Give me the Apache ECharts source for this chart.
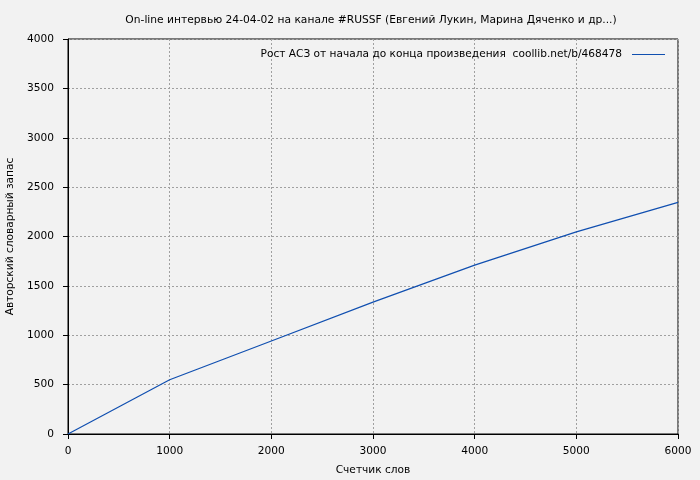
<!DOCTYPE html>
<html><head><meta charset="utf-8">
<script src="https://cdn.jsdelivr.net/npm/echarts@6/dist/echarts.min.js"></script>
<style>html,body{margin:0;padding:0;background:#f2f2f2}#c{width:700px;height:480px}</style>
</head><body><div id="c"></div>
<script>
const titleText = 'On-line интервью 24-04-02 на канале #RUSSF (Евгений Лукин, Марина Дяченко и др...)';
const seriesName = 'Рост АСЗ от начала до конца произведения  coollib.net/b/468478';
const xName = 'Счетчик слов';
const yName = 'Авторский словарный запас';
const xValues = [0, 1000, 2000, 3000, 4000, 5000, 6000];
const yValues = [0, 550, 942, 1335, 1710, 2047, 2346];

const font = 'DejaVu Sans';
const fs = 10.6;
const chart = echarts.init(document.getElementById('c'), null, {renderer: 'canvas'});
chart.setOption({
  backgroundColor: '#f2f2f2',
  animation: false,
  title: {text: titleText, left: 366, textAlign: 'center', top: 10,
    textStyle: {fontFamily: font, fontSize: 10.7, fontWeight: 'normal', color: '#000'}},
  legend: {top: 44, right: 30, align: 'right', itemWidth: 33, itemHeight: 10,
    textStyle: {fontFamily: font, fontSize: fs, color: '#000', padding: [0, 5, 0, 0]},
    data: [{name: seriesName, icon: 'path://M0,5L33,5L33,6L0,6Z'}]},
  grid: {left: 68, right: 22, top: 39, bottom: 46, show: true, borderColor: '#000', borderWidth: 1,
    containLabel: false, outerBoundsMode: 'none'},
  xAxis: {type: 'value', min: 0, max: 6000, interval: 1000,
    name: xName, nameLocation: 'middle', nameGap: 31,
    nameTextStyle: {fontFamily: font, fontSize: fs, color: '#000'},
    axisLine: {show: true, lineStyle: {color: '#000'}},
    axisTick: {show: true, inside: false, length: 5, lineStyle: {color: '#000'}},
    axisLabel: {fontFamily: font, fontSize: fs, color: '#000', margin: 12, formatter: v => String(v)},
    splitLine: {show: true, lineStyle: {color: '#a0a0a0', type: [2, 2], width: 1}}},
  yAxis: {type: 'value', min: 0, max: 4000, interval: 500,
    name: yName, nameLocation: 'middle', nameGap: 52,
    nameTextStyle: {fontFamily: font, fontSize: fs, color: '#000'},
    axisLine: {show: true, lineStyle: {color: '#000'}},
    axisTick: {show: true, inside: false, length: 5, lineStyle: {color: '#000'}},
    axisLabel: {fontFamily: font, fontSize: fs, color: '#000', margin: 14, formatter: v => String(v)},
    splitLine: {show: true, lineStyle: {color: '#a0a0a0', type: [2, 2], width: 1}}},
  series: [{name: seriesName, type: 'line', symbol: 'none', showSymbol: false,
    lineStyle: {color: '#104fb0', width: 1.2}, itemStyle: {color: '#104fb0'},
    data: xValues.map((x, i) => [x, yValues[i]])}]
});
</script></body></html>
